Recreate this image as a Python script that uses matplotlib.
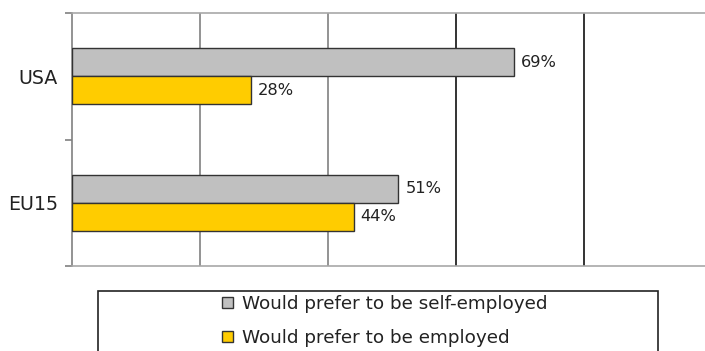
import matplotlib
matplotlib.use("Agg")
import matplotlib.pyplot as plt
from matplotlib.patches import Rectangle, Patch

plt.rcParams['font.family'] = ['DejaVu Sans']

categories = ["EU15", "USA"]
self_employed = [51, 69]
employed = [44, 28]
series_labels = ["Would prefer to be self-employed", "Would prefer to be employed"]
colors = ["#C0C0C0", "#FFCC00"]

fig = plt.figure(figsize=(7.05, 3.51), dpi=100)
ax = fig.add_axes([72/705, (351-266)/351, 640/705, 253/351])

h = 0.22
ypos = list(range(len(categories)))
b1 = ax.barh([y + h/2 for y in ypos], self_employed, height=h, color=colors[0],
             edgecolor="#333333", linewidth=1, zorder=3)
b2 = ax.barh([y - h/2 for y in ypos], employed, height=h, color=colors[1],
             edgecolor="#333333", linewidth=1, zorder=3)

for bars, vals in ((b1, self_employed), (b2, employed)):
    for rect, v in zip(bars, vals):
        ax.annotate(f"{v}%", (v, rect.get_y() + rect.get_height()/2),
                    xytext=(5, 0), textcoords="offset points",
                    va="center", ha="left", fontsize=11.7, color="#222222")

ax.set_xlim(0, 100)
ax.set_ylim(-0.5, 1.5)
ax.set_xticks([])
for x, c in ((20, "#808080"), (40, "#808080"), (60, "#111111"), (80, "#111111")):
    ax.axvline(x, color=c, linewidth=1.2, zorder=1)

ax.set_yticks([-0.5, 0.5, 1.5])
ax.set_yticklabels([])
ax.tick_params(axis="y", which="major", length=5, width=1.2, color="#808080")
ax.set_yticks(ypos, minor=True)
ax.set_yticklabels(categories, minor=True, fontsize=13.7, color="#222222")
ax.tick_params(axis="y", which="minor", length=0, pad=10)

for s in ("top", "bottom"):
    ax.spines[s].set_color("#A8A8A8")
    ax.spines[s].set_linewidth(1.2)
ax.spines["left"].set_color("#808080")
ax.spines["left"].set_linewidth(1.2)
ax.spines["right"].set_visible(False)

# legend frame
fig.patches.append(Rectangle((98/705, -0.05), (658-98)/705, (351-291)/351 + 0.05,
                             transform=fig.transFigure, fill=False,
                             edgecolor="#222222", linewidth=1.2))
handles = [Patch(facecolor=colors[0], edgecolor="#333333", linewidth=1),
           Patch(facecolor=colors[1], edgecolor="#333333", linewidth=1)]
fig.legend(handles, series_labels, loc="upper left",
           bbox_to_anchor=(222/705, (351-295)/351), frameon=False,
           fontsize=13.2, handlelength=0.6, handleheight=0.6,
           handletextpad=0.49, labelspacing=0.88, borderpad=0,
           borderaxespad=0, labelcolor="#222222")

fig.savefig("out.png", dpi=100)
